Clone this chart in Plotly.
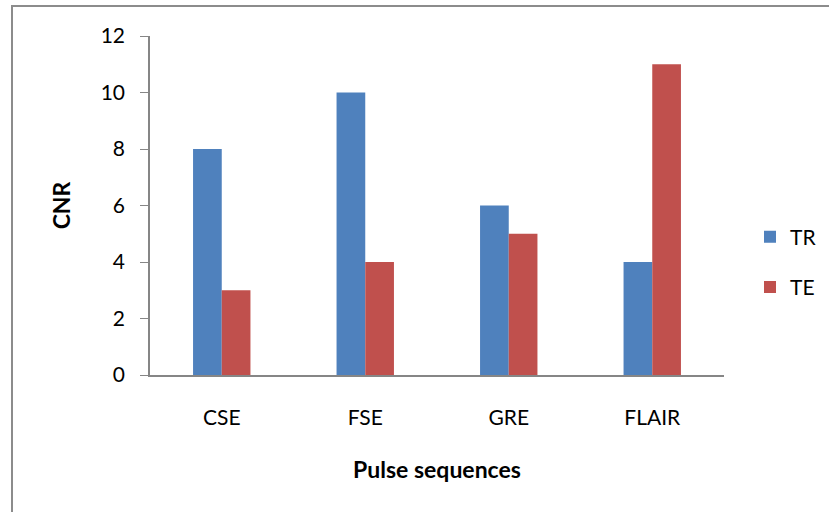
import plotly.graph_objects as go

categories = ["CSE", "FSE", "GRE", "FLAIR"]
tr_values = [8, 10, 6, 4]
te_values = [3, 4, 5, 11]
y_ticks = [0, 2, 4, 6, 8, 10, 12]

FONT = "Lato"
fig = go.Figure()
fig.add_trace(go.Bar(name="TR", x=categories, y=tr_values, marker=dict(color="#4F81BD", line=dict(width=0)), legendgroup="a"))
fig.add_trace(go.Bar(name="TE", x=categories, y=te_values, marker=dict(color="#C0504D", line=dict(width=0)), legendgroup="b"))

W, H = 829, 512
L, R, T, B = 150, 105, 36, 137
pw, ph = W - L - R, H - T - B

def px(x):
    return (x - L) / pw

def py(y):
    return (H - B - y) / ph

fig.update_layout(
    width=W, height=H,
    margin=dict(l=L, r=R, t=T, b=B, autoexpand=False),
    paper_bgcolor="white", plot_bgcolor="white",
    barmode="group", bargap=0.6, bargroupgap=0,
    font=dict(family=FONT, color="black", size=21),
    showlegend=True,
    legend=dict(x=px(750), y=py(262), xanchor="left", yanchor="middle",
                font=dict(size=21), tracegroupgap=20, traceorder="grouped",
                itemwidth=30, bgcolor="rgba(0,0,0,0)"),
    xaxis=dict(showline=True, linecolor="#868686", linewidth=1.5, ticks="",
               ticklabelstandoff=23, tickfont=dict(size=21), automargin=False,
               title=dict(text="<b>Pulse sequences</b>", font=dict(size=23), standoff=34)),
    yaxis=dict(range=[0, 12], tickvals=y_ticks, showline=True, linecolor="#868686",
               linewidth=1.5, ticks="outside", ticklen=8, tickcolor="#868686",
               showgrid=False, zeroline=False, tickfont=dict(size=21),
               ticklabelstandoff=11, automargin=False,
               title=dict(text="<b>CNR</b>", font=dict(size=23), standoff=24)),
    shapes=[dict(type="rect", xref="paper", yref="paper",
                 x0=px(12), x1=px(840), y0=py(530), y1=py(6),
                 line=dict(color="#8c8c8c", width=2), layer="below")],
)

fig.write_html("out.html")
